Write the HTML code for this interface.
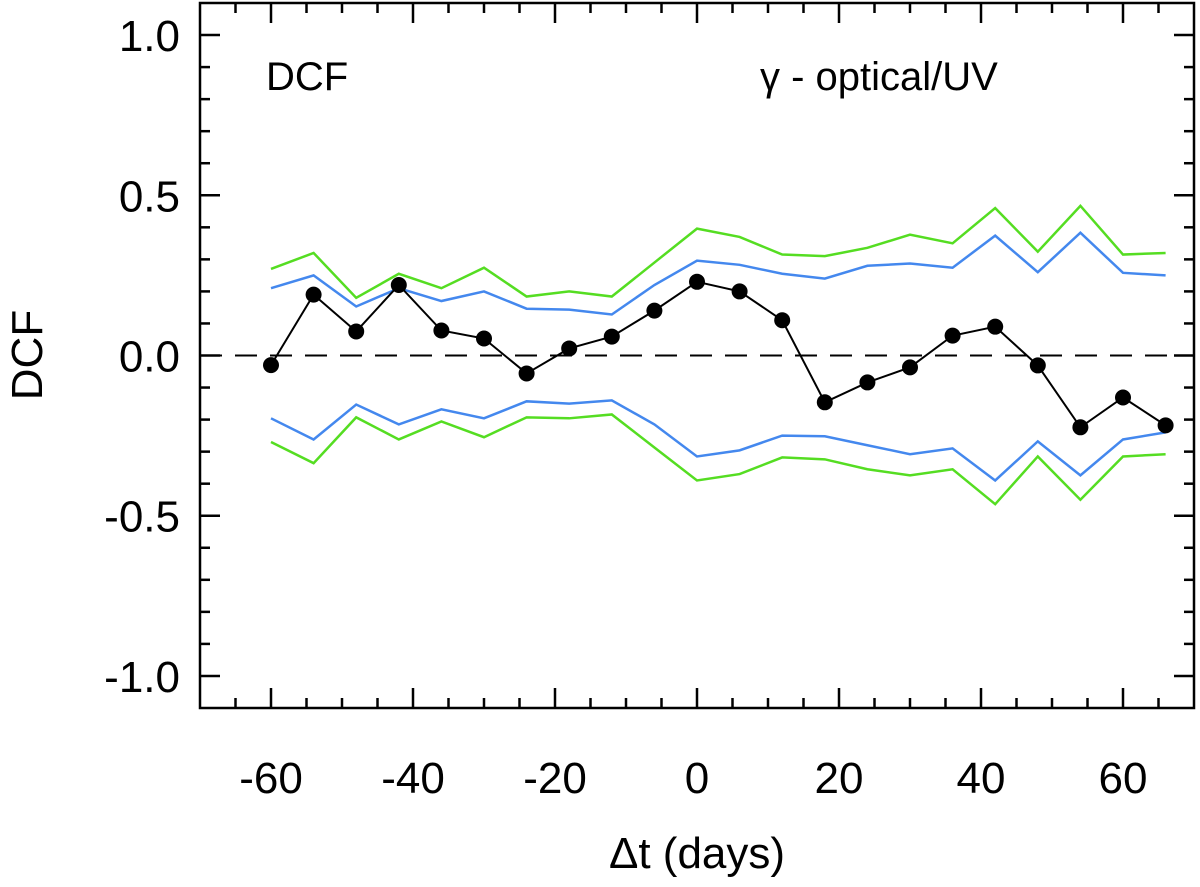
<!DOCTYPE html>
<html><head><meta charset="utf-8"><style>
body{margin:0;background:#fff}
svg text{font-family:"Liberation Sans",Helvetica,sans-serif;fill:#000}
</style></head><body>
<svg id="chart" width="1200" height="882" xmlns="http://www.w3.org/2000/svg">
<g id="ticks"></g>
<g id="series"></g>
<rect x="200" y="3" width="994" height="705" fill="none" stroke="#000" stroke-width="2.5"/>
<text x="266" y="90" font-size="40">DCF</text>
<text x="760" y="90" font-size="40">γ - optical/UV</text>
<text x="697" y="868" font-size="44" text-anchor="middle">Δt (days)</text>
<text transform="translate(42,355) rotate(-90)" font-size="44" text-anchor="middle">DCF</text>
</svg>
<script>
const lags=[-60,-54,-48,-42,-36,-30,-24,-18,-12,-6,0,6,12,18,24,30,36,42,48,54,60,66];
const dcf=[-0.03,0.19,0.075,0.22,0.078,0.053,-0.056,0.022,0.059,0.14,0.23,0.20,0.11,-0.146,-0.084,-0.037,0.062,0.09,-0.031,-0.224,-0.131,-0.218];
const greenUpper=[0.27,0.32,0.18,0.255,0.21,0.274,0.184,0.2,0.184,0.29,0.396,0.37,0.315,0.31,0.336,0.377,0.35,0.46,0.324,0.467,0.315,0.32];
const blueUpper=[0.21,0.25,0.153,0.21,0.17,0.2,0.146,0.143,0.128,0.22,0.296,0.283,0.255,0.24,0.28,0.287,0.274,0.374,0.26,0.383,0.258,0.25];
const blueLower=[-0.196,-0.262,-0.153,-0.215,-0.168,-0.196,-0.143,-0.15,-0.14,-0.215,-0.315,-0.296,-0.25,-0.252,-0.28,-0.308,-0.29,-0.39,-0.268,-0.374,-0.262,-0.24];
const greenLower=[-0.27,-0.336,-0.193,-0.262,-0.206,-0.255,-0.193,-0.196,-0.184,-0.287,-0.39,-0.37,-0.318,-0.324,-0.355,-0.374,-0.355,-0.464,-0.315,-0.45,-0.315,-0.308];
const xTickLabels=[-60,-40,-20,0,20,40,60];
const yTickLabels=[-1.0,-0.5,0.0,0.5,1.0];

const L=200,R=1194,T=3,B=708;
const xs=v=>L+(v+70)/140*(R-L);
const ys=v=>B-(v+1.1)/2.2*(B-T);
const NS="http://www.w3.org/2000/svg";
function mk(tag,attrs,parent){const e=document.createElementNS(NS,tag);for(const k in attrs)e.setAttribute(k,attrs[k]);parent.appendChild(e);return e;}
const tg=document.getElementById('ticks'),sg=document.getElementById('series');
for(let d=-65;d<=65;d+=5){
  const major=d%20===0;const len=major?20:10;const x=xs(d);
  const t1=mk('line',{x1:x,x2:x,y1:B,y2:B-len,stroke:'#000','stroke-width':2.5},tg);
  
  
  mk('line',{x1:x,x2:x,y1:T,y2:T+len,stroke:'#000','stroke-width':2.5},tg);
}
for(let i=-10;i<=10;i++){
  const v=i/10;const major=i%5===0;const len=major?20:10;const y=ys(v);
  const t=mk('line',{x1:L,x2:L+len,y1:y,y2:y,stroke:'#000','stroke-width':2.5},tg);
  
  
  mk('line',{x1:R,x2:R-len,y1:y,y2:y,stroke:'#000','stroke-width':2.5},tg);
}
xTickLabels.forEach(v=>{
  const t=mk('text',{x:xs(v),y:793,'font-size':44,'text-anchor':'middle'},tg);
  
  
  t.textContent=v;
});
yTickLabels.forEach(v=>{
  const t=mk('text',{x:180,y:ys(v)+16,'font-size':44,'text-anchor':'end'},tg);
  
  
  t.textContent=v.toFixed(1);
});
const z=mk('line',{x1:L,x2:R,y1:ys(0),y2:ys(0),stroke:'#000','stroke-width':2,'stroke-dasharray':'22,13'},sg);


function line(arr,color,name,w){
  const p=mk('polyline',{points:arr.map((v,i)=>xs(lags[i])+','+ys(v)).join(' '),fill:'none',stroke:color,'stroke-width':w},sg);
  
  
}
line(greenUpper,'#55dd22','green-upper-band',2.5);
line(blueUpper,'#4488ee','blue-upper-band',2.5);
line(blueLower,'#4488ee','blue-lower-band',2.5);
line(greenLower,'#55dd22','green-lower-band',2.5);
line(dcf,'#000','dcf-line',2);
dcf.forEach((v,i)=>{
  const c=mk('circle',{cx:xs(lags[i]),cy:ys(v),r:8,fill:'#000'},sg);
  
  
});
</script>
</body></html>
